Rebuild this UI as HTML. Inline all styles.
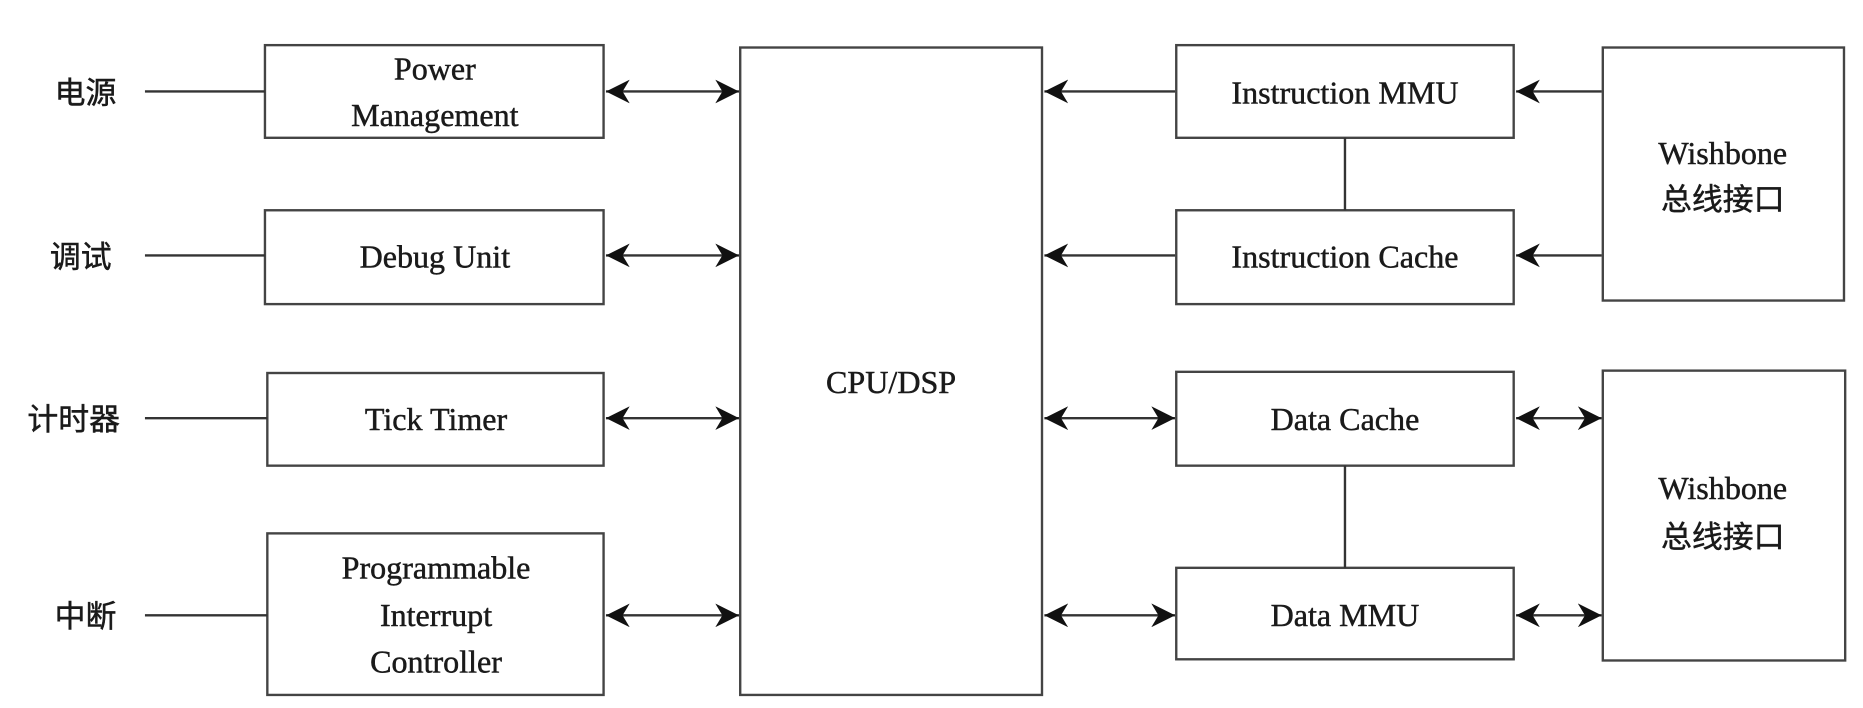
<!DOCTYPE html>
<html><head><meta charset="utf-8"><style>
html,body{margin:0;padding:0;background:#fff;}
svg{display:block;}
text{font-family:"Liberation Serif","Noto Serif CJK SC",serif;font-size:27px;fill:#1a1a1a;text-anchor:middle;stroke:#1a1a1a;stroke-width:0.4;}
.cjk{font-family:"Noto Sans CJK SC","WenQuanYi Zen Hei",sans-serif;font-size:26px;}
</style></head><body>
<svg width="1863" height="708" viewBox="0 0 1568 596" preserveAspectRatio="none" xmlns="http://www.w3.org/2000/svg">
<defs>
<marker id="a" viewBox="0 0 10 10" refX="10" refY="5" markerWidth="20" markerHeight="20" markerUnits="userSpaceOnUse" orient="auto-start-reverse"><path d="M0,0 L10,5 L0,10 L3,5 z" fill="#111"/></marker>
</defs>
<g fill="none" stroke="#444" stroke-width="2">
<rect x="223" y="38" width="285" height="78"/>
<rect x="223" y="177" width="285" height="79"/>
<rect x="225" y="314" width="283" height="78"/>
<rect x="225" y="449" width="283" height="136"/>
<rect x="623" y="40" width="254" height="545"/>
<rect x="990" y="38" width="284" height="78"/>
<rect x="990" y="177" width="284" height="79"/>
<rect x="990" y="313" width="284" height="79"/>
<rect x="990" y="478" width="284" height="77"/>
<rect x="1349" y="40" width="203" height="213"/>
<rect x="1349" y="312" width="204" height="244"/>
</g>
<g stroke="#333" stroke-width="2" fill="none">
<line x1="122" y1="77" x2="223" y2="77"/>
<line x1="122" y1="215" x2="223" y2="215"/>
<line x1="122" y1="352" x2="225" y2="352"/>
<line x1="122" y1="518" x2="225" y2="518"/>
<line x1="1132" y1="116" x2="1132" y2="177"/>
<line x1="1132" y1="392" x2="1132" y2="478"/>
<line x1="510" y1="77" x2="622" y2="77" marker-start="url(#a)" marker-end="url(#a)"/>
<line x1="510" y1="215" x2="622" y2="215" marker-start="url(#a)" marker-end="url(#a)"/>
<line x1="510" y1="352" x2="622" y2="352" marker-start="url(#a)" marker-end="url(#a)"/>
<line x1="510" y1="518" x2="622" y2="518" marker-start="url(#a)" marker-end="url(#a)"/>
<line x1="989" y1="77" x2="879" y2="77" marker-end="url(#a)"/>
<line x1="989" y1="215" x2="879" y2="215" marker-end="url(#a)"/>
<line x1="1348" y1="77" x2="1276" y2="77" marker-end="url(#a)"/>
<line x1="1348" y1="215" x2="1276" y2="215" marker-end="url(#a)"/>
<line x1="879" y1="352" x2="989" y2="352" marker-start="url(#a)" marker-end="url(#a)"/>
<line x1="879" y1="518" x2="989" y2="518" marker-start="url(#a)" marker-end="url(#a)"/>
<line x1="1276" y1="352" x2="1348" y2="352" marker-start="url(#a)" marker-end="url(#a)"/>
<line x1="1276" y1="518" x2="1348" y2="518" marker-start="url(#a)" marker-end="url(#a)"/>
</g>
<text class="cjk" x="72" y="87">电源</text>
<text class="cjk" x="68" y="225">调试</text>
<text class="cjk" x="62" y="362">计时器</text>
<text class="cjk" x="72" y="528">中断</text>
<text x="366" y="67">Power</text>
<text x="366" y="106">Management</text>
<text x="366" y="225">Debug Unit</text>
<text x="367" y="362">Tick Timer</text>
<text x="367" y="487">Programmable</text>
<text x="367" y="527">Interrupt</text>
<text x="367" y="566">Controller</text>
<text x="750" y="331">CPU/DSP</text>
<text x="1132" y="87">Instruction MMU</text>
<text x="1132" y="225">Instruction Cache</text>
<text x="1132" y="362">Data Cache</text>
<text x="1132" y="527">Data MMU</text>
<text x="1450" y="138">Wishbone</text>
<text class="cjk" x="1450" y="177">总线接口</text>
<text x="1450" y="420">Wishbone</text>
<text class="cjk" x="1450" y="461">总线接口</text>
</svg>
</body></html>
